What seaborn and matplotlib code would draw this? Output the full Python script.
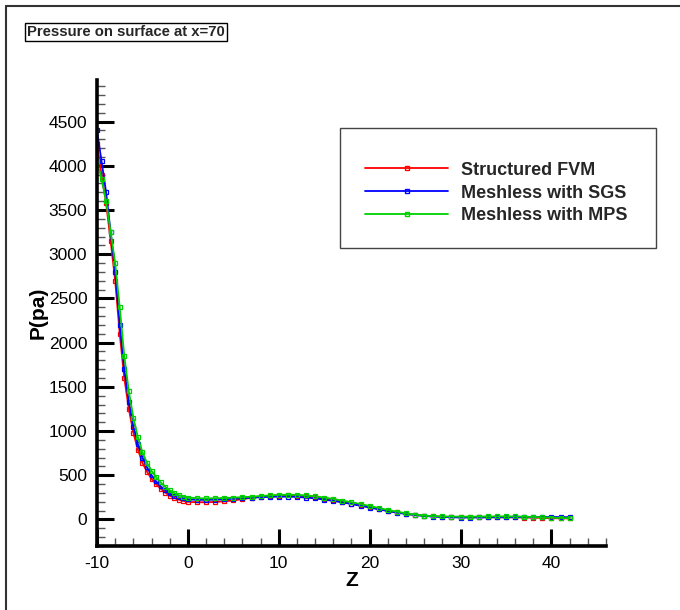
import matplotlib
matplotlib.use("Agg")
import matplotlib.pyplot as plt
import seaborn as sns
import pandas as pd
from matplotlib.lines import Line2D
from matplotlib.patches import Rectangle
from matplotlib.ticker import MultipleLocator

z = [-10, -9.5, -9, -8.5, -8, -7.5, -7, -6.5, -6, -5.5, -5, -4.5, -4, -3.5, -3,
     -2.5, -2, -1.5, -1, -0.5, 0, 1, 2, 3, 4, 5, 6, 7, 8, 9, 10, 11, 12, 13, 14,
     15, 16, 17, 18, 19, 20, 21, 22, 23, 24, 25, 26, 27, 28, 29, 30, 31, 32, 33,
     34, 35, 36, 37, 38, 39, 40, 41, 42]

p_fvm = [4250, 3900, 3580, 3150, 2700, 2100, 1600, 1250, 980, 790, 640, 540, 460,
         400, 350, 305, 270, 245, 225, 210, 200, 195, 195, 198, 205, 215, 230, 245,
         258, 265, 270, 272, 270, 262, 250, 235, 218, 200, 180, 160, 140, 118, 98,
         80, 65, 52, 42, 35, 30, 28, 27, 26, 26, 25, 25, 24, 24, 22, 20, 18, 15, 12, 12]
p_sgs = [4400, 4050, 3700, 3250, 2800, 2200, 1700, 1330, 1050, 850, 700, 590, 500,
         430, 375, 330, 295, 270, 250, 238, 228, 222, 222, 224, 228, 234, 240, 246,
         252, 256, 258, 258, 255, 248, 238, 225, 210, 193, 175, 155, 135, 115, 95,
         78, 62, 50, 40, 33, 28, 25, 22, 22, 23, 24, 25, 25, 26, 26, 27, 28, 28, 27, 26]
p_mps = [4050, 3850, 3600, 3250, 2900, 2400, 1850, 1450, 1150, 930, 760, 640, 550,
         480, 420, 370, 330, 300, 275, 258, 248, 240, 238, 240, 243, 247, 252, 258,
         265, 272, 278, 280, 278, 272, 262, 248, 232, 214, 195, 175, 153, 130, 108,
         88, 70, 55, 44, 38, 35, 33, 32, 32, 33, 34, 35, 35, 34, 32, 28, 24, 20, 17, 15]

labels = ["Structured FVM", "Meshless with SGS", "Meshless with MPS"]
colors = ["#ff0000", "#0000ff", "#00d000"]

df = pd.concat([
    pd.DataFrame({"Z": z, "P": p, "series": lab})
    for p, lab in zip([p_fvm, p_sgs, p_mps], labels)
])

sns.set_style("white")
plt.rcParams["font.family"] = ["Liberation Sans", "DejaVu Sans"]
plt.rcParams["axes.unicode_minus"] = False

W, H = 680, 610
fig = plt.figure(figsize=(6.8, 6.1), dpi=100)
ax = fig.add_axes([97 / W, 1 - 546 / H, (606 - 97) / W, (546 - 80) / H])

for lab, col in zip(labels, colors):
    sns.lineplot(data=df[df["series"] == lab], x="Z", y="P", ax=ax, color=col,
                 marker="s", markersize=3.5, markerfacecolor="none",
                 markeredgecolor=col, markeredgewidth=0.9, linewidth=1.3,
                 sort=False, estimator=None, label=lab, legend=False)

ax.set_xlim(-10, 46)
ax.set_ylim(-300, 4970)
ax.xaxis.set_major_locator(MultipleLocator(10))
ax.xaxis.set_minor_locator(MultipleLocator(2))
ax.yaxis.set_major_locator(MultipleLocator(500))
ax.yaxis.set_minor_locator(MultipleLocator(100))
ax.tick_params(which="both", bottom=True, left=True, top=False, right=False)
ax.tick_params(which="major", direction="in", length=12, width=2.2,
               labelsize=12.5, pad=7, color="black", labelcolor="black")
ax.tick_params(which="minor", direction="in", length=6, width=1.0, color="#555555")
for s in ["top", "right"]:
    ax.spines[s].set_visible(False)
for s in ["left", "bottom"]:
    ax.spines[s].set_linewidth(2.6)
    ax.spines[s].set_color("black")

ax.set_xlabel("Z", fontsize=15, fontweight="bold", labelpad=0, color="black")
ax.set_ylabel("P(pa)", fontsize=15, fontweight="bold", labelpad=1, color="black")

# legend frame
fig.add_artist(Rectangle((340 / W, 1 - 248 / H), (656 - 340) / W, (248 - 128) / H,
                         transform=fig.transFigure, fill=False, edgecolor="#444444",
                         linewidth=1.0))
handles = [Line2D([], [], color=c, marker="s", markersize=3.5, markerfacecolor="none",
                  markeredgecolor=c, linewidth=1.3) for c in colors]
fig.legend(handles, labels, loc="center left",
           bbox_to_anchor=(365 / W, 1 - 193 / H), frameon=False, numpoints=1,
           prop={"weight": "bold", "size": 13}, handlelength=4.6,
           handletextpad=0.7, labelspacing=0.32, borderpad=0, borderaxespad=0)

# title box
fig.text(126 / W, 1 - 32 / H, "Pressure on surface at x=70", ha="center", va="center",
         fontsize=10.7, fontweight="bold",
         bbox=dict(boxstyle="square,pad=0.12", facecolor="white",
                   edgecolor="black", linewidth=1.0))

# outer frame (left and top edges)
fig.add_artist(Line2D([6 / W, 6 / W], [0, 1 - 6 / H], transform=fig.transFigure,
                      color="#333333", linewidth=1.5))
fig.add_artist(Line2D([6 / W, 1], [1 - 6 / H, 1 - 6 / H], transform=fig.transFigure,
                      color="#333333", linewidth=1.5))

fig.savefig("out.png", dpi=100)
